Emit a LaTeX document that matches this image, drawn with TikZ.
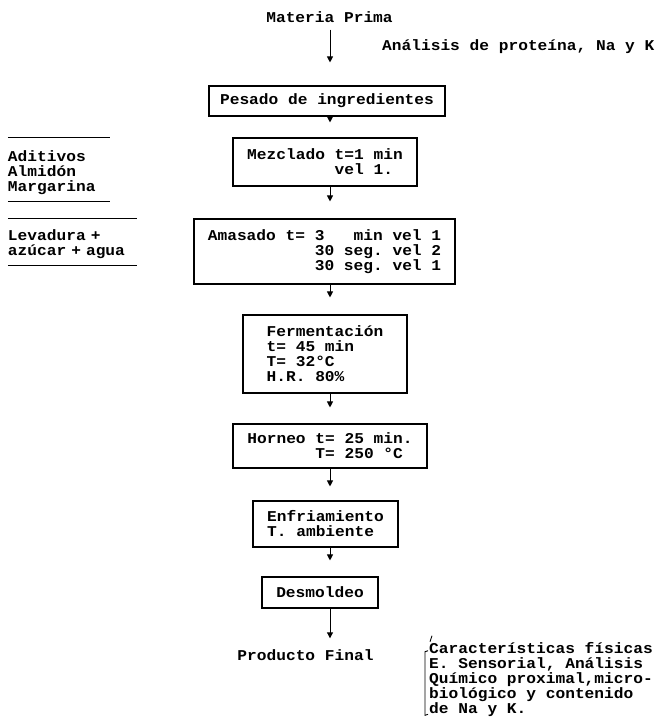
\documentclass[tikz,border=0pt]{standalone}
\usepackage{fontspec}
\newfontfamily\tw{Liberation Mono}[FakeStretch=1.08]
\usetikzlibrary{arrows.meta}
\begin{document}
\begin{tikzpicture}[x=1pt,y=-1pt,
  every node/.style={font=\tw\bfseries\fontsize{15}{15}\selectfont\frenchspacing},
  lbl/.style={inner sep=0pt, align=left},
  procbox/.style={draw, line width=1.1pt, inner sep=0pt, align=left},
  arr/.style={line width=1pt, -{Triangle[length=6pt,width=6pt]}},
  rule/.style={line width=1.1pt}]
\useasboundingbox (0,0) rectangle (656,727);
\coordinate (ax) at (330,0);
% main text nodes
\node[lbl] (mp) at (329.5,17) {Materia Prima};
\node[lbl, anchor=west] (anal) at (382,47) {Análisis de proteína, Na y K};
\node[procbox, minimum width=236, minimum height=30] (pesado) at (327,101) {Pesado de ingredientes};
\node[procbox, minimum width=184, minimum height=48] (mezclado) at (325,162)
  {Mezclado t=1 min\\\phantom{xxxxxxxxx}vel 1.};
\node[procbox, minimum width=261, minimum height=65] (amasado) at (324.5,251.5)
  {Amasado t= 3\phantom{xxx}min vel 1\\\phantom{xxxxxxxxxxx}30 seg. vel 2\\\phantom{xxxxxxxxxxx}30 seg. vel 1};
\node[procbox, minimum width=164, minimum height=78] (ferm) at (325,354)
  {Fermentación\\t= 45 min\\T= 32°C\\H.R. 80\%};
\node[procbox, minimum width=194, minimum height=44] (horneo) at (330,446)
  {Horneo t= 25 min.\\\phantom{xxxxxxx}T= 250 °C};
\node[procbox, minimum width=145, minimum height=46] (enfr) at (325.5,524)
  {Enfriamiento\\T. ambiente};
\node[procbox, minimum width=116, minimum height=31] (desm) at (320,592.5) {Desmoldeo};
\node[lbl] (pf) at (305.5,655) {Producto Final};
% left inputs
\node[lbl, text width=102, minimum height=63] (adit) at (59,173) {Aditivos\\Almidón\\Margarina};
\draw[rule] ([yshift=3.5pt]adit.north west) -- ([yshift=3.5pt]adit.north east);
\draw[rule] ([yshift=3.5pt]adit.south west) -- ([yshift=3.5pt]adit.south east);
\node[lbl, text width=129, minimum height=46] (lev) at (72.5,244.5) {Levadura +\\azúcar + agua};
\draw[rule] ([yshift=2.5pt]lev.north west) -- ([yshift=2.5pt]lev.north east);
\draw[rule] ([yshift=2.5pt]lev.south west) -- ([yshift=2.5pt]lev.south east);
% bottom right
\node[lbl, anchor=west] (car) at (429,680)
  {Características físicas\\E. Sensorial, Análisis\\Químico proximal,micro-\\biológico y contenido\\de Na y K.};
\draw[line width=0.9pt] ([xshift=-1pt,yshift=-8pt]car.north west) -- ([xshift=-4pt,yshift=-9pt]car.north west)
  -- ([xshift=-4pt,yshift=2pt]car.south west) -- ([xshift=-1pt,yshift=3pt]car.south west);
\draw[line width=0.9pt] ([xshift=1pt,yshift=1pt]car.north west) -- ([xshift=3pt,yshift=7pt]car.north west);
% connectors
\draw[arr, shorten <=7pt, shorten >=23pt] (mp.south -| ax) -- (pesado.north -| ax);
\draw[arr, shorten >=15pt] (pesado.south -| ax) -- (mezclado.north -| ax);
\draw[arr, shorten >=17pt] (mezclado.south -| ax) -- (amasado.north -| ax);
\draw[arr, shorten >=17pt] (amasado.south -| ax) -- (ferm.north -| ax);
\draw[arr, shorten >=16pt] (ferm.south -| ax) -- (horneo.north -| ax);
\draw[arr, shorten >=14pt] (horneo.south -| ax) -- (enfr.north -| ax);
\draw[arr, shorten >=16pt] (enfr.south -| ax) -- (desm.north -| ax);
\draw[arr, shorten >=11pt] (desm.south -| ax) -- (pf.north -| ax);
\end{tikzpicture}
\end{document}
